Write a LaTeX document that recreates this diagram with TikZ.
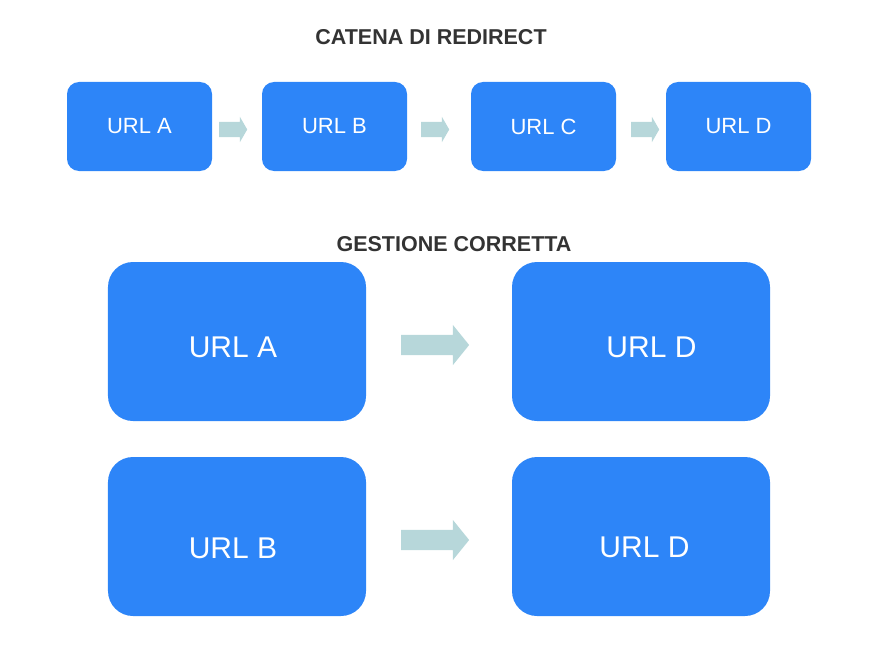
\documentclass[tikz,border=0pt]{standalone}
\usepackage{fontspec}
\setmainfont{Liberation Sans}
\usetikzlibrary{shapes.arrows}
\definecolor{urlblue}{RGB}{45,133,248}
\definecolor{arrowteal}{RGB}{183,215,218}
\definecolor{titlegray}{RGB}{51,51,51}
\tikzset{
	smallbox/.style = {shape=rectangle, rounded corners=12bp, fill=urlblue,
		text=white, inner sep=0pt,
		minimum width=145bp, minimum height=89bp,
		font=\fontsize{22bp}{25bp}\selectfont},
	bigbox/.style   = {smallbox, rounded corners=25bp,
		minimum width=258bp, minimum height=159bp},
	biglabel/.style = {text=white, inner sep=0pt,
		font=\fontsize{30bp}{34bp}\selectfont},
	heading/.style  = {text=titlegray, inner sep=0pt,
		font=\bfseries\fontsize{21.5bp}{24bp}\selectfont},
	smallarrow/.style = {single arrow, fill=arrowteal, inner sep=0pt,
		text height=15bp, text depth=0pt,
		minimum height=28bp, single arrow tip angle=120,
		single arrow head extend=5bp},
	bigarrow/.style   = {single arrow, fill=arrowteal, inner sep=0pt,
		text height=20bp, text depth=0pt,
		minimum height=68bp, single arrow tip angle=102,
		single arrow head extend=10bp}
}
\begin{document}
\begin{tikzpicture}
[
x = 1bp,
y = -1bp
]
\useasboundingbox (0,0) rectangle (885,663);
% redirect chain
\node [heading] (chaintitle) at (431,37) {CATENA DI REDIRECT};
\node [smallbox] (chainA) at (139.5,126.5) {URL A};
\node [smallbox] (chainB) at (334.5,126.5) {URL B};
\node [smallbox] (chainC) at (543.5,126.5) {URL C};
\node [smallbox] (chainD) at (738.5,126.5) {URL D};
\node [smallarrow] (chainAB) at (231,129.5) {};
\node [smallarrow] (chainBC) at (433,129.5) {};
\node [smallarrow] (chainCD) at (643,129.5) {};
% correct handling
\node [heading] (fixtitle) at (454,244) {GESTIONE CORRETTA};
\node [bigbox] (fixA) at (237,341.5) {};
\node [bigbox] (fixAD) at (641,341.5) {};
\node [bigbox] (fixB) at (237,536.5) {};
\node [bigbox] (fixBD) at (641,536.5) {};
\node [biglabel] (fixAtext) at (233,347) {URL A};
\node [biglabel] (fixADtext) at (651.5,347) {URL D};
\node [biglabel] (fixBtext) at (233,548) {URL B};
\node [biglabel] (fixBDtext) at (644.5,547) {URL D};
\node [bigarrow] (fixAarrow) at (431,345) {};
\node [bigarrow] (fixBarrow) at (431,540) {};
\end{tikzpicture}
\end{document}
